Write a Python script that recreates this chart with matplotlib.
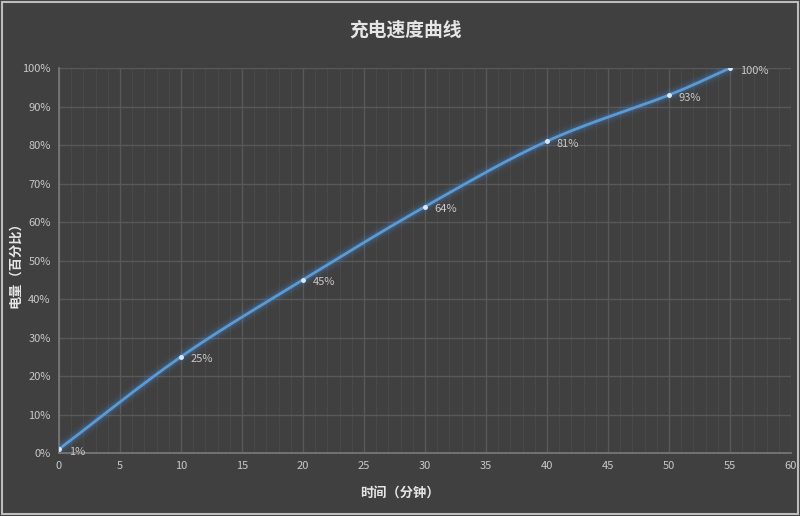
import numpy as np
import matplotlib
matplotlib.use("Agg")
import matplotlib.pyplot as plt
from matplotlib.ticker import MultipleLocator, FuncFormatter

plt.rcParams['font.family'] = ['Noto Sans CJK SC', 'DejaVu Sans']

minutes = [0, 10, 20, 30, 40, 50, 55]
charge = [1, 25, 45, 64, 81, 93, 100]
labels = ['1%', '25%', '45%', '64%', '81%', '93%', '100%']
title = '充电速度曲线'
xlabel = '时间（分钟）'
ylabel = '电量（百分比）'

def catmull_rom(x, y, n=40):
    x = np.asarray(x, float); y = np.asarray(y, float)
    px = np.concatenate([[2*x[0]-x[1]], x, [2*x[-1]-x[-2]]])
    py = np.concatenate([[2*y[0]-y[1]], y, [2*y[-1]-y[-2]]])
    xs, ys = [], []
    for i in range(1, len(px)-2):
        t = np.linspace(0, 1, n)
        for arr, out in ((px, xs), (py, ys)):
            p0, p1, p2, p3 = arr[i-1], arr[i], arr[i+1], arr[i+2]
            out.extend(0.5*((2*p1) + (-p0+p2)*t + (2*p0-5*p1+4*p2-p3)*t**2 + (-p0+3*p1-3*p2+p3)*t**3))
    return np.array(xs), np.array(ys)

bg = '#404040'
fig = plt.figure(figsize=(8, 5.16), dpi=100, facecolor=bg)
ax = fig.add_axes([0.07375, 0.1221, 0.915, 0.746])
ax.set_facecolor(bg)

ax.set_xlim(0, 60)
ax.set_ylim(0, 100)
ax.xaxis.set_major_locator(MultipleLocator(5))
ax.xaxis.set_minor_locator(MultipleLocator(1))
ax.yaxis.set_major_locator(MultipleLocator(10))
ax.yaxis.set_major_formatter(FuncFormatter(lambda v, p: f'{int(round(v))}%'))

ax.grid(which='major', color='#595959', linewidth=1.0)
ax.grid(which='minor', axis='x', color='#494949', linewidth=0.8)
ax.set_axisbelow(True)
for s in ['top', 'right']:
    ax.spines[s].set_visible(False)
for s in ['left', 'bottom']:
    ax.spines[s].set_color('#7a7a7a')
    ax.spines[s].set_linewidth(1.2)
ax.tick_params(which='both', length=0, colors='#c8c8c8', labelsize=8)
ax.tick_params(axis='x', pad=6)
ax.tick_params(axis='y', pad=6)

sx, sy = catmull_rom(minutes, charge)
for lw, a in [(10, 0.06), (7, 0.09), (4.5, 0.15)]:
    ax.plot(sx, sy, color='#4a90e2', linewidth=lw, alpha=a, solid_capstyle='round', zorder=3)
ax.plot(sx, sy, color='#5b9bd5', linewidth=2, zorder=4)
ax.plot(minutes, charge, 'o', color='#dce8f5', markersize=2.5, zorder=5)
for x, y, t in zip(minutes, charge, labels):
    ax.annotate(t, (x, y), xytext=(7, -4), textcoords='offset points',
                color='#c8c8c8', fontsize=8, zorder=6)

fig.text(406/800, 1-30/516, title, ha='center', va='center', color='#e6e6e6',
         fontsize=13.5, fontweight='bold')
fig.text(400/800, 1-493/516, xlabel, ha='center', va='center', color='#e6e6e6',
         fontsize=9.5, fontweight='bold')
fig.text(15/800, 1-262/516, ylabel, ha='center', va='center', rotation=90,
         color='#e6e6e6', fontsize=9.5, fontweight='bold')

fig.patches.append(plt.Rectangle((0.002, 0.004), 0.996, 0.992, transform=fig.transFigure,
                                 fill=False, edgecolor='#bdbdbd', linewidth=1.5))

fig.savefig('out.png', dpi=100, facecolor=bg)
